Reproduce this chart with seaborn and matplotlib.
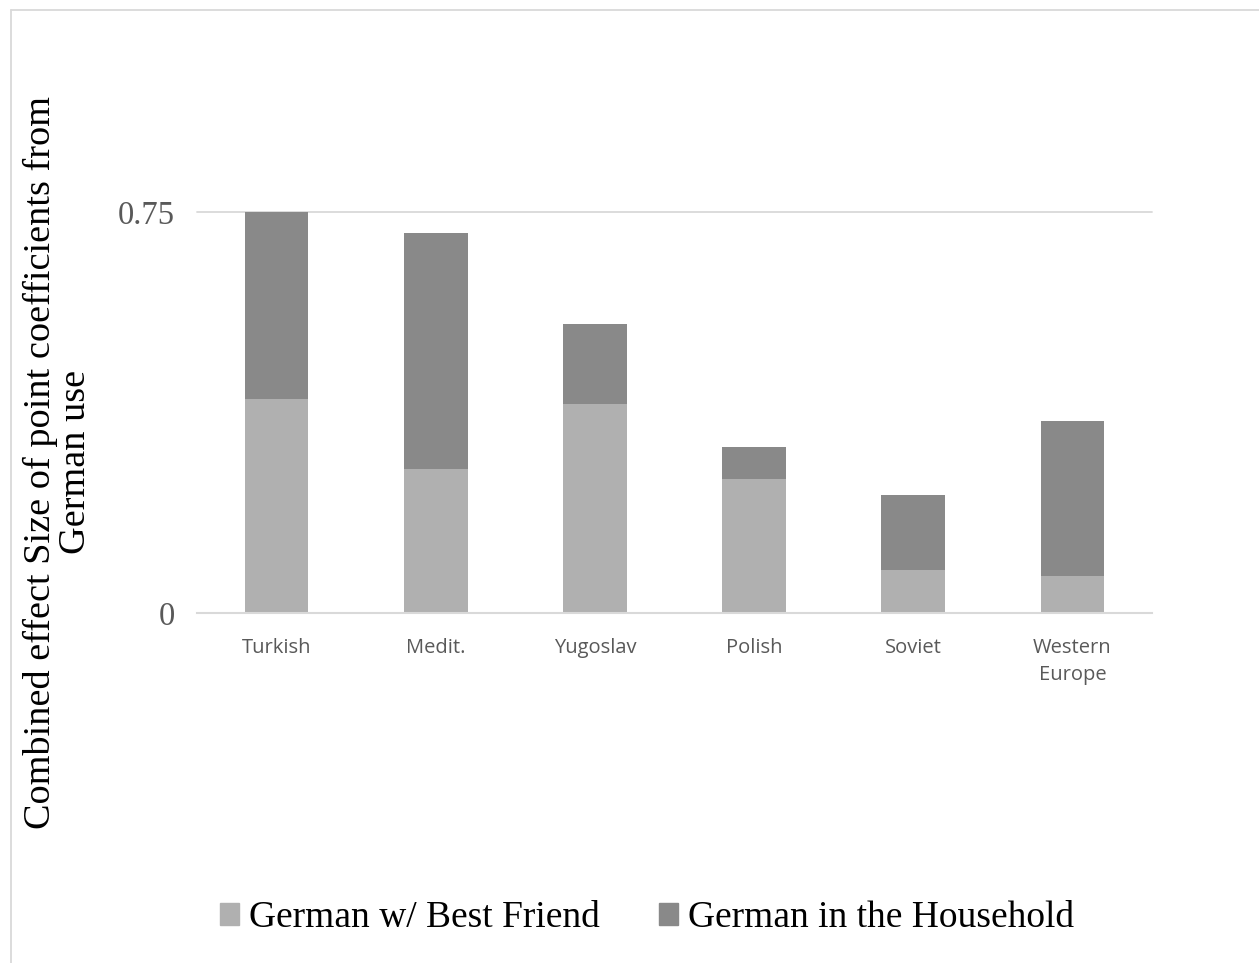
import matplotlib
matplotlib.use("Agg")
import matplotlib.pyplot as plt
import matplotlib.patches as mpatches
from matplotlib.lines import Line2D
import seaborn as sns
import pandas as pd

groups = ["Turkish", "Medit.", "Yugoslav", "Polish", "Soviet", "Western\nEurope"]
best_friend = [0.40, 0.27, 0.39, 0.25, 0.08, 0.07]
household = [0.35, 0.44, 0.15, 0.06, 0.14, 0.29]
y_ticks = [0, 0.75]
y_tick_labels = ["0", "0.75"]

series_names = ["German w/ Best Friend", "German in the Household"]
light = "#b0b0b0"
dark = "#898989"

df = pd.DataFrame({
    "group": groups,
    "friend": best_friend,
    "total": [f + h for f, h in zip(best_friend, household)],
})

sns.set_style("white")
plt.rcParams["text.color"] = "black"
fig = plt.figure(figsize=(12.59, 9.63), dpi=100)
ax = fig.add_axes([197 / 1259, 1 - 613 / 963, (1152 - 197) / 1259, (613 - 212) / 963])

# stacked bars: full height in dark, lower segment in light on top
sns.barplot(data=df, x="group", y="total", color=dark, saturation=1,
            width=0.4, ax=ax, zorder=3, linewidth=0)
sns.barplot(data=df, x="group", y="friend", color=light, saturation=1,
            width=0.4, ax=ax, zorder=4, linewidth=0)

ax.set_xlim(-0.5, len(groups) - 0.5)
ax.set_ylim(0, 0.75)
ax.set_yticks(y_ticks)
ax.set_yticklabels(y_tick_labels, fontfamily="Liberation Serif", fontsize=23.5, color="#595959")
ax.tick_params(axis="y", length=0, pad=16)
ax.tick_params(axis="x", length=0, pad=18)
for lbl in ax.get_xticklabels():
    lbl.set_fontfamily("Open Sans")
    lbl.set_fontsize(14.5)
    lbl.set_color("#595959")
    lbl.set_linespacing(1.45)
    lbl.set_verticalalignment("top")

ax.set_xlabel("")
ax.set_ylabel("")
for s in ["left", "right", "top"]:
    ax.spines[s].set_visible(False)
ax.spines["bottom"].set_color("#d9d9d9")
ax.spines["bottom"].set_linewidth(1.5)
ax.spines["bottom"].set_zorder(5)
ax.axhline(0.75, color="#d9d9d9", lw=1.3, zorder=1, clip_on=False)

fig.text(58 / 1259, 1 - 462 / 963,
         "Combined effect Size of point coefficients from\nGerman use",
         rotation=90, ha="center", va="center", fontsize=27.5, color="black",
         fontfamily="Liberation Serif", linespacing=1.0)

handles = [mpatches.Patch(color=light, label=series_names[0]),
           mpatches.Patch(color=dark, label=series_names[1])]
leg = fig.legend(handles=handles, loc="center", bbox_to_anchor=(647 / 1259, 1 - 918 / 963),
                 ncol=2, frameon=False, prop={"family": "Liberation Serif", "size": 27},
                 handlelength=0.5, handleheight=0.5, handletextpad=0.25,
                 columnspacing=1.6)
for t in leg.get_texts():
    t.set_color("black")

# chart-area border along the top and left
fig.add_artist(Line2D([11 / 1259, 1.0], [1 - 10 / 963, 1 - 10 / 963],
                      transform=fig.transFigure, color="#d9d9d9", lw=1.3))
fig.add_artist(Line2D([11 / 1259, 11 / 1259], [0.0, 1 - 10 / 963],
                      transform=fig.transFigure, color="#d9d9d9", lw=1.3))

fig.savefig("out.png", dpi=100)
